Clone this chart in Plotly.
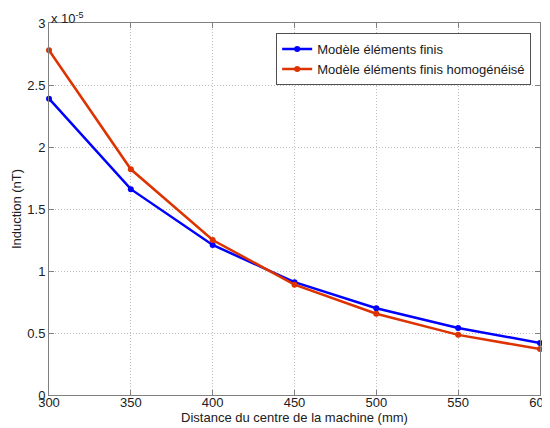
import plotly.graph_objects as go

distance = [300, 350, 400, 450, 500, 550, 600]
fem = [2.39, 1.66, 1.21, 0.91, 0.70, 0.54, 0.42]
fem_homog = [2.78, 1.82, 1.25, 0.89, 0.655, 0.485, 0.37]
names = ["Modèle éléments finis", "Modèle éléments finis homogénéisé"]

fig = go.Figure()
fig.add_trace(go.Scatter(x=distance, y=fem, mode="lines+markers", name=names[0],
                         legendgroup="a", cliponaxis=False,
                         line=dict(color="#0000FF", width=2.5),
                         marker=dict(color="#0000FF", size=6, symbol="circle")))
fig.add_trace(go.Scatter(x=distance, y=fem_homog, mode="lines+markers", name=names[1],
                         legendgroup="b", cliponaxis=False,
                         line=dict(color="#DD3300", width=2.5),
                         marker=dict(color="#DD3300", size=6, symbol="circle")))

axis_common = dict(showline=True, linecolor="#808080", linewidth=1, mirror="ticks",
                   ticks="inside", ticklen=5, tickcolor="#808080",
                   showgrid=True, gridcolor="#BEBEBE", griddash="1px,2px", gridwidth=1,
                   zeroline=False, automargin=False, ticklabeloverflow="allow",
                   tickfont=dict(family="Liberation Sans, Arial", size=13, color="#202020"))

# page body has an 8px margin, so the figure is offset by 8px
fig.update_layout(
    width=550, height=420,
    margin=dict(l=41, r=18, t=15, b=33),
    paper_bgcolor="white", plot_bgcolor="white",
    font=dict(family="Liberation Sans, Arial", size=12, color="#202020"),
    xaxis=dict(range=[300, 600], tickvals=distance, ticklabelstandoff=-5, **axis_common,
               title=dict(text="Distance du centre de la machine (mm)", standoff=0,
                          font=dict(size=13))),
    yaxis=dict(range=[0, 3], tickvals=[0, 0.5, 1, 1.5, 2, 2.5, 3],
               ticktext=["0", "0.5", "1", "1.5", "2", "2.5", "3"], **axis_common,
               title=dict(text="Induction (nT)", standoff=2, font=dict(size=13))),
    legend=dict(x=0.982, y=0.973, xanchor="right", yanchor="top",
                bgcolor="white", bordercolor="#505050", borderwidth=1,
                font=dict(size=13), tracegroupgap=0, itemwidth=30),
    showlegend=True,
)
fig.add_annotation(text="x 10<sup>-5</sup>", xref="paper", yref="paper", x=0.0, y=1.0,
                   xanchor="left", yanchor="bottom", showarrow=False,
                   font=dict(size=13, color="#202020"), xshift=0, yshift=-5)
fig.write_html("out.html")
